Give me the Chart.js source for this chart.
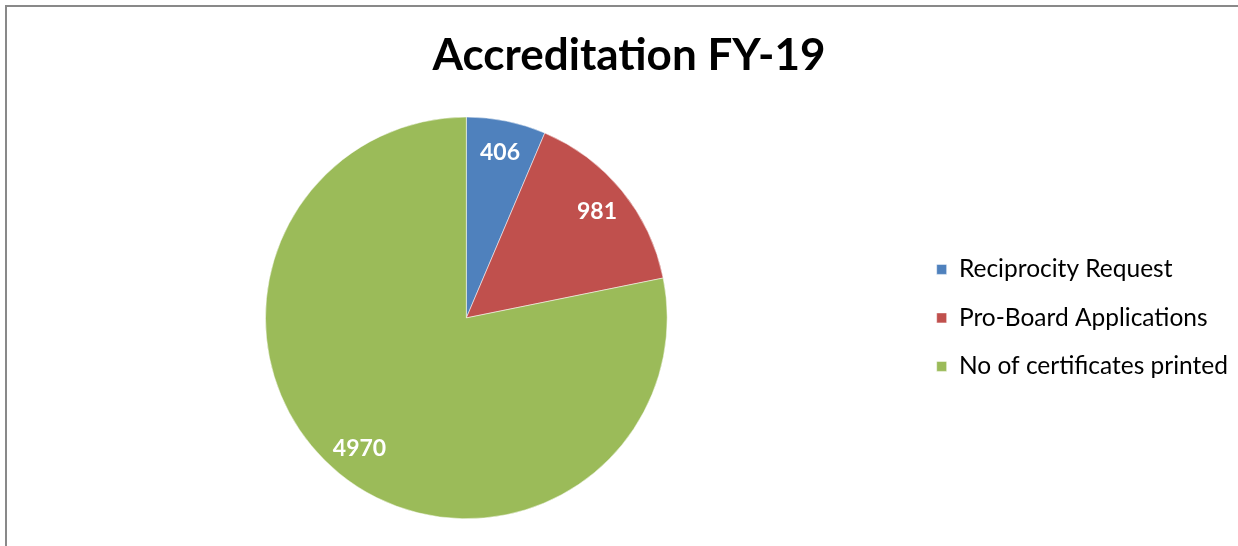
<!DOCTYPE html>
<html lang="en">
  <head>
    <meta charset="UTF-8" />
    <title>Accreditation FY-19</title>
    <style>
      body {
        margin: 0;
        background: #ffffff;
        overflow: hidden;
      }
      .frame {
        position: absolute;
        left: 5px;
        top: 5px;
        width: 1300px;
        height: 600px;
        border-left: 2px solid #898989;
        border-top: 2px solid #898989;
      }
      .chart-box {
        position: absolute;
        left: 0;
        top: 0;
        width: 1238px;
        height: 546px;
      }
    </style>
    <script src="https://cdn.jsdelivr.net/npm/chart.js@4.4.1/dist/chart.umd.min.js"></script>
  </head>
  <body>
    <div class="frame"></div>
    <div class="chart-box">
      <canvas id="pieChart"></canvas>
    </div>

    <script>
      // data
      const categories = [
        "Reciprocity Request",
        "Pro-Board Applications",
        "No of certificates printed",
      ];
      const values = [406, 981, 4970];
      const colors = ["#4F81BD", "#C0504D", "#9BBB59"];

      // white value labels inside each slice
      const sliceLabels = {
        id: "sliceLabels",
        afterDatasetsDraw(chart) {
          const ctx = chart.ctx;
          const meta = chart.getDatasetMeta(0);
          ctx.save();
          ctx.fillStyle = "#ffffff";
          ctx.font = "bold 23px Lato";
          ctx.textAlign = "center";
          ctx.textBaseline = "middle";
          meta.data.forEach((arc, i) => {
            const p = arc.getProps(["x", "y", "startAngle", "endAngle", "outerRadius"], true);
            const mid = (p.startAngle + p.endAngle) / 2;
            const r = p.outerRadius * 0.84;
            ctx.fillText(String(values[i]), p.x + Math.cos(mid) * r, p.y + Math.sin(mid) * r);
          });
          ctx.restore();
        },
      };

      const ctx = document.getElementById("pieChart").getContext("2d");
      new Chart(ctx, {
        type: "pie",
        data: {
          labels: categories,
          datasets: [
            {
              data: values,
              backgroundColor: colors,
              borderColor: "#ffffff",
              borderWidth: 0.5,
            },
          ],
        },
        options: {
          responsive: true,
          maintainAspectRatio: false,
          animation: false,
          layout: {
            padding: { left: 20, right: 0, top: 0, bottom: 27 },
          },
          plugins: {
            title: {
              display: true,
              text: "Accreditation FY-19",
              color: "#000000",
              font: { family: "Lato", size: 44, weight: "bold" },
              padding: { top: 29, bottom: 35 },
            },
            legend: {
              position: "right",
              fullSize: false,
              labels: {
                boxWidth: 10,
                boxHeight: 10,
                padding: 24,
                color: "#000000",
                font: { family: "Lato", size: 24.5 },
              },
            },
            tooltip: { enabled: false },
          },
        },
        plugins: [sliceLabels],
      });
    </script>
  </body>
</html>
